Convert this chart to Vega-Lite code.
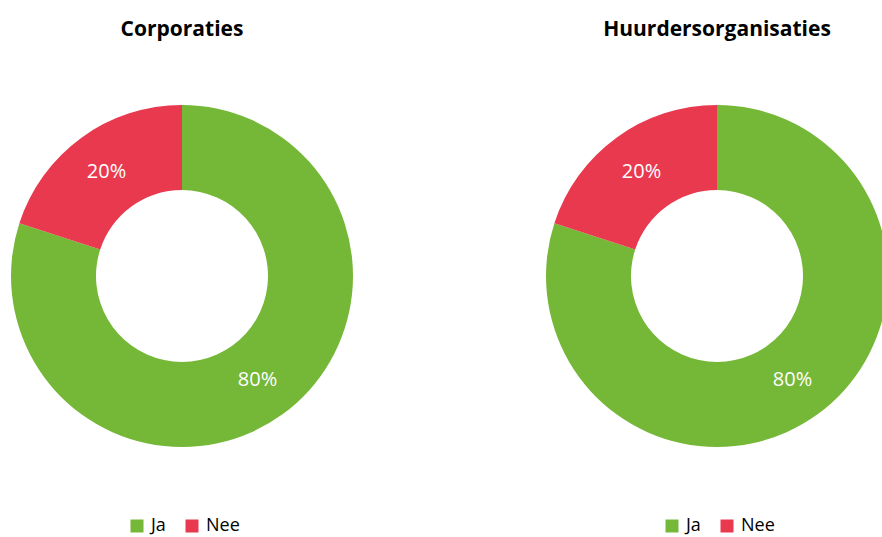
{
  "$schema": "https://vega.github.io/schema/vega-lite/v6.json",
  "padding": {"left": 0, "top": 19, "right": 0, "bottom": 0},
  "background": "white",
  "data": {"values": [
    {"group": "Corporaties", "answer": "Ja", "value": 80, "label": "80%"},
    {"group": "Corporaties", "answer": "Nee", "value": 20, "label": "20%"},
    {"group": "Huurdersorganisaties", "answer": "Ja", "value": 80, "label": "80%"},
    {"group": "Huurdersorganisaties", "answer": "Nee", "value": 20, "label": "20%"}
  ]},
  "spacing": 171,
  "hconcat": [
    {
      "title": {"text": "Corporaties"},
      "width": 364, "height": 432,
      "transform": [{"filter": "datum.group === 'Corporaties'"}],
      "encoding": {
        "theta": {"field": "value", "type": "quantitative", "stack": true},
        "color": {"field": "answer", "type": "nominal", "scale": {"domain": ["Ja", "Nee"], "range": ["#75B737", "#E8394F"]}, "legend": {"title": null, "orient": "none", "legendX": 128, "legendY": 457}},
        "order": {"field": "answer", "type": "nominal"}
      },
      "layer": [
        {"mark": {"type": "arc", "outerRadius": 171, "innerRadius": 86}},
        {"mark": {"type": "text", "radius": 128.5, "fontSize": 20, "font": "Open Sans"}, "encoding": {"text": {"field": "label"}, "color": {"value": "white"}}}
      ]
    },
    {
      "title": {"text": "Huurdersorganisaties"},
      "width": 364, "height": 432,
      "transform": [{"filter": "datum.group === 'Huurdersorganisaties'"}],
      "encoding": {
        "theta": {"field": "value", "type": "quantitative", "stack": true},
        "color": {"field": "answer", "type": "nominal", "scale": {"domain": ["Ja", "Nee"], "range": ["#75B737", "#E8394F"]}, "legend": {"title": null, "orient": "none", "legendX": 128, "legendY": 457}},
        "order": {"field": "answer", "type": "nominal"}
      },
      "layer": [
        {"mark": {"type": "arc", "outerRadius": 171, "innerRadius": 86}},
        {"mark": {"type": "text", "radius": 128.5, "fontSize": 20, "font": "Open Sans"}, "encoding": {"text": {"field": "label"}, "color": {"value": "white"}}}
      ]
    }
  ],
  "resolve": {"scale": {"color": "independent"}, "legend": {"color": "independent"}},
  "config": {
    "view": {"stroke": null},
    "title": {"font": "Open Sans", "fontSize": 21, "fontWeight": "bold", "color": "black", "anchor": "middle", "offset": 20},
    "legend": {"direction": "horizontal", "symbolType": "square", "symbolSize": 169, "symbolStrokeWidth": 0, "labelFont": "Open Sans", "labelFontSize": 18, "labelColor": "black", "columnPadding": 17, "labelOffset": 5}
  }
}
